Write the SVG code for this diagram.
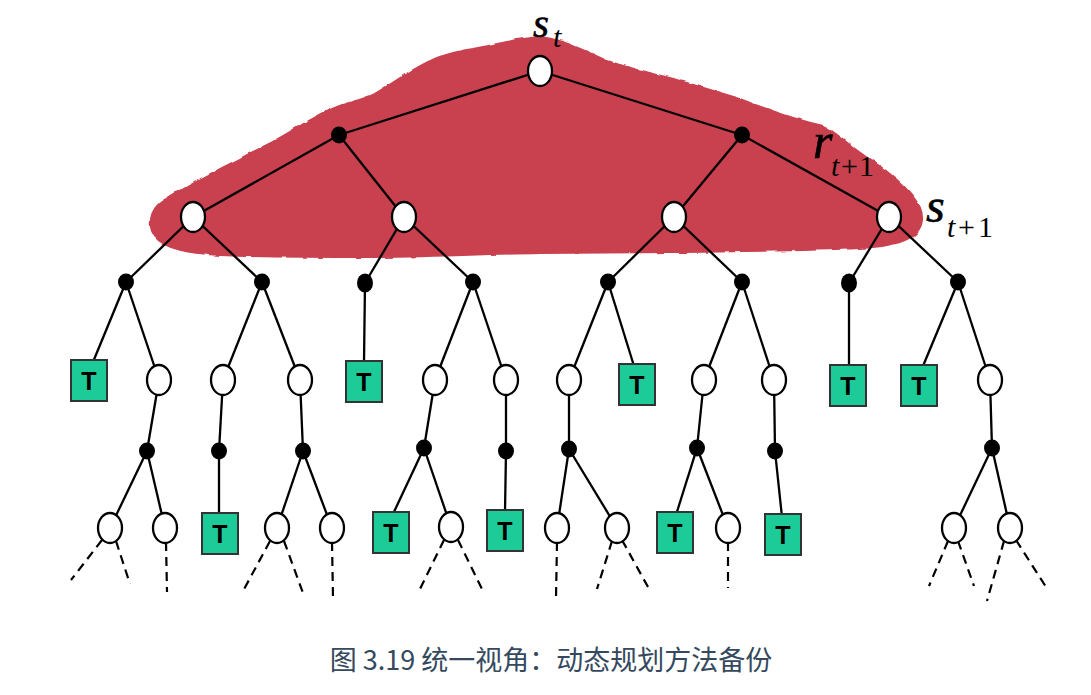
<svg xmlns="http://www.w3.org/2000/svg" width="1091" height="695" viewBox="0 0 1091 695">
<style>
.e{fill:#fff;stroke:#000;stroke-width:2.3}
.d{fill:#000}
.t rect{fill:#1dcb98;stroke:#333;stroke-width:2}
.t text{font-family:"Liberation Sans",Arial,sans-serif;font-weight:bold;font-size:25px;fill:#000;text-anchor:middle}
.ln line{stroke:#000;stroke-width:2.3}
.ds line{stroke:#000;stroke-width:2.2;stroke-dasharray:9 6}
.m{font-family:"Liberation Serif","Times New Roman",serif;font-style:italic;fill:#000;stroke:#000;stroke-width:0.6}
.sub{font-family:"Liberation Serif","Times New Roman",serif;fill:#000;font-size:30px}
.cap{font-family:"Noto Sans CJK SC","Noto Sans",sans-serif;font-size:27px;fill:#34495e;text-anchor:middle}
</style>
<defs>
<filter id="rough" x="-5%" y="-10%" width="110%" height="120%">
<feTurbulence type="fractalNoise" baseFrequency="0.09" numOctaves="2" seed="3"/>
<feDisplacementMap in="SourceGraphic" scale="3" xChannelSelector="R" yChannelSelector="G"/>
</filter>
</defs>
<rect width="1091" height="695" fill="#fff"/>
<path id="blob" filter="url(#rough)" fill="#c9404f" stroke="#c9404f" stroke-width="4" stroke-linejoin="round"
d="M540,38 C556,39 575,47 607,62 C630,70 650,74 673,80 C700,88 720,94 740,100 C760,108 790,120 823,127 C835,132 845,145 873,163 C895,178 912,195 919,208 C924,220 920,232 907,238 C895,244 880,246 860,247 C800,250 740,250 673,251 L540,252 C480,253 420,256 373,256 C320,256 260,256 220,254 C190,252 165,248 156,236 C148,225 152,210 162,203 C175,194 200,180 240,160 C255,152 265,147 273,143 C300,128 320,114 340,107 C355,102 365,100 375,95 C400,80 420,65 440,58 C455,53 465,51 473,50 C495,46 515,40 540,38 Z"/>
<g id="connectors">
<g class="ln">
<line x1="540" y1="71" x2="339" y2="135"/>
<line x1="540" y1="71" x2="742" y2="135"/>
<line x1="339" y1="135" x2="193" y2="217"/>
<line x1="339" y1="135" x2="404" y2="217"/>
<line x1="742" y1="135" x2="674" y2="217"/>
<line x1="742" y1="135" x2="889" y2="217"/>
<line x1="193" y1="217" x2="126" y2="282"/>
<line x1="193" y1="217" x2="262" y2="282"/>
<line x1="404" y1="217" x2="365" y2="283"/>
<line x1="404" y1="217" x2="473" y2="282"/>
<line x1="674" y1="217" x2="608" y2="282"/>
<line x1="674" y1="217" x2="742" y2="282"/>
<line x1="889" y1="217" x2="849" y2="283"/>
<line x1="889" y1="217" x2="958" y2="282"/>
<line x1="126" y1="282" x2="93" y2="362"/>
<line x1="126" y1="282" x2="159" y2="380"/>
<line x1="262" y1="282" x2="223" y2="380"/>
<line x1="262" y1="282" x2="300" y2="380"/>
<line x1="365" y1="283" x2="364" y2="362"/>
<line x1="473" y1="282" x2="435" y2="380"/>
<line x1="473" y1="282" x2="506" y2="380"/>
<line x1="608" y1="282" x2="569" y2="380"/>
<line x1="608" y1="282" x2="634" y2="366"/>
<line x1="742" y1="282" x2="704" y2="380"/>
<line x1="742" y1="282" x2="774" y2="380"/>
<line x1="849" y1="283" x2="849" y2="366"/>
<line x1="958" y1="282" x2="923" y2="366"/>
<line x1="958" y1="282" x2="990" y2="380"/>
<line x1="159" y1="380" x2="147" y2="451"/>
<line x1="223" y1="380" x2="219" y2="451"/>
<line x1="300" y1="380" x2="303" y2="451"/>
<line x1="435" y1="380" x2="424" y2="448"/>
<line x1="506" y1="380" x2="506" y2="451"/>
<line x1="569" y1="380" x2="569" y2="449"/>
<line x1="704" y1="380" x2="697" y2="448"/>
<line x1="774" y1="380" x2="775" y2="451"/>
<line x1="990" y1="380" x2="992" y2="448"/>
<line x1="147" y1="451" x2="110" y2="528"/>
<line x1="147" y1="451" x2="165" y2="528"/>
<line x1="219" y1="451" x2="219" y2="515"/>
<line x1="303" y1="451" x2="277" y2="528"/>
<line x1="303" y1="451" x2="332" y2="528"/>
<line x1="424" y1="448" x2="393" y2="514"/>
<line x1="424" y1="448" x2="451" y2="527"/>
<line x1="506" y1="451" x2="505" y2="512"/>
<line x1="569" y1="449" x2="557" y2="528"/>
<line x1="569" y1="449" x2="617" y2="528"/>
<line x1="697" y1="448" x2="676" y2="515"/>
<line x1="697" y1="448" x2="728" y2="528"/>
<line x1="775" y1="451" x2="782" y2="517"/>
<line x1="992" y1="448" x2="954" y2="528"/>
<line x1="992" y1="448" x2="1010" y2="528"/>
</g>
<g class="ds">
<line x1="102" y1="540" x2="71" y2="580"/>
<line x1="116" y1="541" x2="130" y2="584"/>
<line x1="166" y1="542" x2="167" y2="592"/>
<line x1="270" y1="541" x2="242" y2="593"/>
<line x1="284" y1="541" x2="303" y2="593"/>
<line x1="332" y1="542" x2="333" y2="598"/>
<line x1="444" y1="540" x2="418" y2="593"/>
<line x1="458" y1="540" x2="482" y2="589"/>
<line x1="557" y1="542" x2="556" y2="598"/>
<line x1="612" y1="541" x2="597" y2="589"/>
<line x1="622" y1="540" x2="648" y2="587"/>
<line x1="728" y1="542" x2="728" y2="588"/>
<line x1="948" y1="541" x2="929" y2="586"/>
<line x1="958" y1="541" x2="974" y2="586"/>
<line x1="1004" y1="541" x2="987" y2="601"/>
<line x1="1016" y1="540" x2="1046" y2="587"/>
</g>
</g>
<g id="root"><ellipse class="e" cx="540" cy="71" rx="12" ry="15"/></g>
<g id="d1"><ellipse class="d" cx="339" cy="135" rx="8" ry="8.5"/></g>
<g id="d2"><ellipse class="d" cx="742" cy="135" rx="8" ry="8.5"/></g>
<g id="e1"><ellipse class="e" cx="193" cy="217" rx="12" ry="15"/></g>
<g id="e2"><ellipse class="e" cx="404" cy="217" rx="12" ry="15"/></g>
<g id="e3"><ellipse class="e" cx="674" cy="217" rx="12" ry="15"/></g>
<g id="e4"><ellipse class="e" cx="889" cy="217" rx="12" ry="15"/></g>
<g id="d3"><ellipse class="d" cx="126" cy="282" rx="8" ry="8.5"/></g>
<g id="d4"><ellipse class="d" cx="262" cy="282" rx="8" ry="8.5"/></g>
<g id="d5"><ellipse class="d" cx="365" cy="283" rx="8" ry="9.5"/></g>
<g id="d6"><ellipse class="d" cx="473" cy="282" rx="8" ry="8.5"/></g>
<g id="d7"><ellipse class="d" cx="608" cy="282" rx="8" ry="8.5"/></g>
<g id="d8"><ellipse class="d" cx="742" cy="282" rx="8" ry="8.5"/></g>
<g id="d9"><ellipse class="d" cx="849" cy="283" rx="8" ry="9.5"/></g>
<g id="d10"><ellipse class="d" cx="958" cy="282" rx="8" ry="8.5"/></g>
<g id="t1" class="t"><rect x="71" y="360" width="36" height="41"/><text x="89" y="390">T</text></g>
<g id="e5"><ellipse class="e" cx="159" cy="380" rx="12" ry="15"/></g>
<g id="e6"><ellipse class="e" cx="223" cy="380" rx="12" ry="15"/></g>
<g id="e7"><ellipse class="e" cx="300" cy="380" rx="12" ry="15"/></g>
<g id="t2" class="t"><rect x="346" y="361" width="36" height="41"/><text x="364" y="391">T</text></g>
<g id="e8"><ellipse class="e" cx="435" cy="380" rx="12" ry="15"/></g>
<g id="e9"><ellipse class="e" cx="506" cy="380" rx="12" ry="15"/></g>
<g id="e10"><ellipse class="e" cx="569" cy="380" rx="12" ry="15"/></g>
<g id="t3" class="t"><rect x="619" y="364" width="36" height="41"/><text x="637" y="394">T</text></g>
<g id="e11"><ellipse class="e" cx="704" cy="380" rx="12" ry="15"/></g>
<g id="e12"><ellipse class="e" cx="774" cy="380" rx="12" ry="15"/></g>
<g id="t4" class="t"><rect x="830" y="365" width="36" height="41"/><text x="848" y="395">T</text></g>
<g id="t5" class="t"><rect x="901" y="365" width="36" height="41"/><text x="919" y="395">T</text></g>
<g id="e13"><ellipse class="e" cx="990" cy="380" rx="12" ry="15"/></g>
<g id="d11"><ellipse class="d" cx="147" cy="451" rx="8" ry="8.5"/></g>
<g id="d12"><ellipse class="d" cx="219" cy="451" rx="8" ry="8.5"/></g>
<g id="d13"><ellipse class="d" cx="303" cy="451" rx="8" ry="8.5"/></g>
<g id="d14"><ellipse class="d" cx="424" cy="448" rx="8" ry="8.5"/></g>
<g id="d15"><ellipse class="d" cx="506" cy="451" rx="8" ry="8.5"/></g>
<g id="d16"><ellipse class="d" cx="569" cy="449" rx="8" ry="8.5"/></g>
<g id="d17"><ellipse class="d" cx="697" cy="448" rx="8" ry="8.5"/></g>
<g id="d18"><ellipse class="d" cx="775" cy="451" rx="8" ry="8.5"/></g>
<g id="d19"><ellipse class="d" cx="992" cy="448" rx="8" ry="8.5"/></g>
<g id="e14"><ellipse class="e" cx="110" cy="528" rx="12" ry="15"/></g>
<g id="e15"><ellipse class="e" cx="165" cy="528" rx="12" ry="15"/></g>
<g id="t6" class="t"><rect x="202" y="513" width="36" height="41"/><text x="220" y="543">T</text></g>
<g id="e16"><ellipse class="e" cx="277" cy="528" rx="12" ry="15"/></g>
<g id="e17"><ellipse class="e" cx="332" cy="528" rx="12" ry="15"/></g>
<g id="t7" class="t"><rect x="373" y="512" width="36" height="41"/><text x="391" y="542">T</text></g>
<g id="e18"><ellipse class="e" cx="451" cy="527" rx="12" ry="15"/></g>
<g id="t8" class="t"><rect x="487" y="510" width="36" height="41"/><text x="505" y="540">T</text></g>
<g id="e19"><ellipse class="e" cx="557" cy="528" rx="12" ry="15"/></g>
<g id="e20"><ellipse class="e" cx="617" cy="528" rx="12" ry="15"/></g>
<g id="t9" class="t"><rect x="657" y="512" width="36" height="41"/><text x="675" y="542">T</text></g>
<g id="e21"><ellipse class="e" cx="728" cy="528" rx="12" ry="15"/></g>
<g id="t10" class="t"><rect x="765" y="514" width="36" height="41"/><text x="783" y="544">T</text></g>
<g id="e22"><ellipse class="e" cx="954" cy="528" rx="12" ry="15"/></g>
<g id="e23"><ellipse class="e" cx="1010" cy="528" rx="12" ry="15"/></g>
<g id="labels">
<text class="m" x="533" y="37" font-size="41">s</text>
<text class="sub" x="553" y="47" font-style="italic" font-size="25">t</text>
<text class="m" x="813" y="158" font-size="50">r</text>
<text class="sub" x="831" y="176" font-style="italic">t</text>
<text class="sub" x="841" y="176">+</text>
<text class="sub" x="859" y="176">1</text>
<text class="m" x="926" y="222" font-size="48">s</text>
<text class="sub" x="947" y="237" font-style="italic">t</text>
<text class="sub" x="958" y="237">+</text>
<text class="sub" x="978" y="237">1</text>
</g>
<text class="cap" x="551" y="670">图 3.19 统一视角：动态规划方法备份</text>
</svg>
